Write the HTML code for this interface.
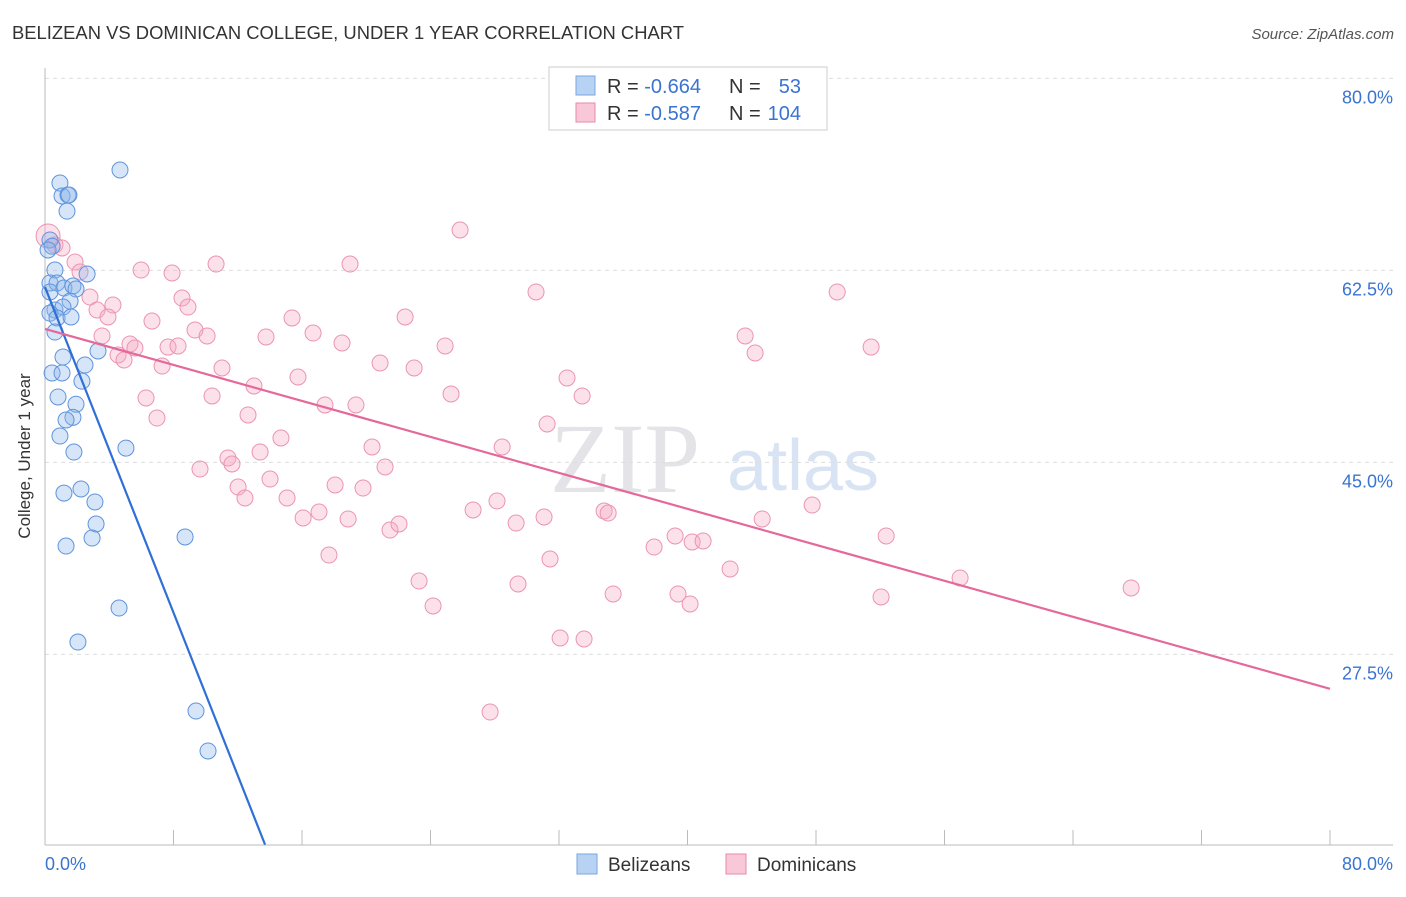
<!DOCTYPE html>
<html><head><meta charset="utf-8"><style>
body{margin:0;background:#fff;font-family:"Liberation Sans",sans-serif;}
</style></head><body>
<svg id="c" width="1406" height="892" xmlns="http://www.w3.org/2000/svg">
<text x="12" y="39" font-size="18" fill="#333" textLength="672" lengthAdjust="spacingAndGlyphs">BELIZEAN VS DOMINICAN COLLEGE, UNDER 1 YEAR CORRELATION CHART</text>
<text x="1394" y="39" font-size="15" fill="#555" text-anchor="end" font-style="italic">Source: ZipAtlas.com</text>
<text x="30" y="456" font-size="17" fill="#333" text-anchor="middle" transform="rotate(-90 30 456)">College, Under 1 year</text>
<text x="625" y="492" font-size="100" fill="#e4e4e8" font-family="Liberation Serif" text-anchor="middle">ZIP</text>
<text x="803" y="490" font-size="72" fill="#d8e4f4" text-anchor="middle">atlas</text>
<g id="grid"></g><g id="marks"></g>
<g>
<rect x="549" y="67" width="278" height="63" fill="#fff" stroke="#ccc"/>
<rect x="576" y="76" width="19" height="19" fill="#b8d2f4" stroke="#7aa6e0"/>
<rect x="576" y="103" width="19" height="19" fill="#f9c8d8" stroke="#e88aa8"/>
<g font-size="20" fill="#333">
<text x="607" y="93">R = <tspan fill="#3a74d0">-0.664</tspan></text>
<text x="729" y="93">N =</text>
<text x="801" y="93" text-anchor="end" fill="#3a74d0">53</text>
<text x="607" y="120">R = <tspan fill="#3a74d0">-0.587</tspan></text>
<text x="729" y="120">N =</text>
<text x="801" y="120" text-anchor="end" fill="#3a74d0">104</text>
</g>
</g>
<g>
<rect x="577" y="854" width="20" height="20" fill="#b8d2f4" stroke="#7aa6e0"/>
<text x="608" y="871" font-size="19" fill="#333">Belizeans</text>
<rect x="726" y="854" width="20" height="20" fill="#f9c8d8" stroke="#e88aa8"/>
<text x="757" y="871" font-size="19" fill="#333">Dominicans</text>
</g>
</svg>
<script>
const yTicks=[80,62.5,45,27.5];
const yTickLabels=["80.0%","62.5%","45.0%","27.5%"];
const xTickValues=[0,8,16,24,32,40,48,56,64,72,80];
const xLabels=["0.0%","80.0%"];
const belX=[4.67,0.93,1.06,1.43,1.49,1.37,0.31,0.44,0.19,0.62,2.62,0.31,0.75,1.18,1.74,1.93,0.31,1.56,0.62,1.12,0.31,0.75,1.62,0.62,3.3,1.12,2.49,0.44,1.06,2.3,0.81,1.93,1.74,1.31,0.93,1.8,5.04,1.18,2.24,3.11,3.18,2.93,1.31,8.72,4.61,2.05,9.4,10.15];
const belY=[71.65,70.46,69.28,69.37,69.37,67.9,65.27,64.7,64.36,62.53,62.17,61.35,61.35,60.89,61.08,60.8,60.53,59.7,58.89,59.16,58.6,58.16,58.25,56.88,55.15,54.6,53.87,53.15,53.15,52.4,50.96,50.3,49.1,48.86,47.4,45.94,46.3,42.2,42.57,41.39,39.38,38.1,37.37,38.2,31.72,28.62,22.33,18.69];
const domX=[0.19,0.62,1.06,1.87,2.18,2.8,3.24,4.23,3.92,3.55,4.55,4.92,5.29,5.6,5.98,6.29,6.66,6.97,7.29,7.66,7.91,8.28,8.53,8.9,9.34,10.09,10.4,10.65,11.02,9.65,11.39,11.64,12.02,12.45,12.64,13.01,13.39,13.76,14.01,14.69,15.07,15.38,15.75,16.07,16.69,17.06,17.43,17.68,18.06,18.49,18.87,18.99,19.36,19.8,20.36,20.86,21.17,21.48,22.04,22.42,22.98,23.29,24.16,24.91,25.28,25.84,26.65,27.71,28.14,28.46,29.33,29.45,30.57,31.07,31.26,31.44,32.07,32.5,33.44,33.56,34.81,35.06,35.37,37.92,39.23,39.41,40.16,40.29,40.97,42.65,43.59,44.21,44.65,47.76,49.32,51.43,52.05,52.37,56.97,67.62];
const domY=[65.63,64.81,64.54,63.26,62.35,60.07,58.89,59.34,58.25,56.52,54.79,54.33,55.79,55.42,62.53,50.87,57.88,49.04,53.78,55.51,62.26,55.61,59.98,59.16,57.06,56.52,51.05,63.08,53.6,44.39,45.4,44.85,42.75,41.75,49.32,51.96,45.94,56.43,43.48,47.22,41.75,58.16,52.78,39.93,56.79,40.47,50.23,36.55,42.94,55.88,39.84,63.08,50.23,42.66,46.4,54.06,44.58,38.83,39.38,58.25,53.6,34.18,31.91,55.61,51.23,66.18,40.66,22.24,41.48,46.4,39.47,33.91,60.53,40.02,48.5,36.19,28.99,52.69,51.05,28.9,40.57,40.38,33.0,37.28,38.29,33.0,32.09,37.74,37.83,35.28,56.52,54.97,39.84,41.11,60.53,55.51,32.73,38.29,34.46,33.55];
const belTrend=[60.98,-3.71,13.7];
const domTrend=[57.16,-0.41,80];
const X=v=>45+v*16.0625, Y=v=>956-v*10.97;
const NS="http://www.w3.org/2000/svg";
function mk(t,a,p){const e=document.createElementNS(NS,t);for(const k in a)e.setAttribute(k,a[k]);p.appendChild(e);return e;}
const g=document.getElementById('grid'),m=document.getElementById('marks');
yTicks.forEach((t,i)=>{
 const l=mk('line',{x1:45,x2:1393,y1:Y(t),y2:Y(t),stroke:'#ddd','stroke-dasharray':'4,4'},g);
 
 
 const tx=mk('text',{x:1393,y:Y(t)+25,'font-size':18,fill:'#3a74d0','text-anchor':'end'},g);
 tx.textContent=yTickLabels[i];
 
 
});
const ax=mk('line',{x1:45,x2:1393,y1:845,y2:845,stroke:'#bbb'},g);


const ay=mk('line',{x1:45,x2:45,y1:68,y2:845,stroke:'#bbb'},g);


xTickValues.forEach(v=>{
 const t=mk('line',{x1:X(v),x2:X(v),y1:830,y2:845,stroke:'#bbb'},g);
 
 
});
[[0,'start',45],[80,'end',1393]].forEach((d,i)=>{
 const t=mk('text',{x:d[2],y:870,'font-size':18,fill:'#3a74d0','text-anchor':d[1]},g);
 t.textContent=xLabels[i];
 
 
});
domX.forEach((x,i)=>{
 const c=mk('circle',{cx:X(x),cy:Y(domY[i]),r:i==0?12:8,fill:'rgba(246,170,196,0.35)',stroke:'#eb94b2','stroke-width':1},m);
 
 
});
belX.forEach((x,i)=>{
 const c=mk('circle',{cx:X(x),cy:Y(belY[i]),r:8,fill:'rgba(140,180,236,0.35)',stroke:'#5f94dc','stroke-width':1},m);
 
 
});
const tb=mk('line',{x1:X(0),y1:Y(belTrend[0]),x2:X(belTrend[2]),y2:Y(belTrend[0]+belTrend[1]*belTrend[2]),stroke:'#2f6fd6','stroke-width':2.2},m);


const td=mk('line',{x1:X(0),y1:Y(domTrend[0]),x2:X(domTrend[2]),y2:Y(domTrend[0]+domTrend[1]*domTrend[2]),stroke:'#e4699a','stroke-width':2.2},m);


</script>
</body></html>
